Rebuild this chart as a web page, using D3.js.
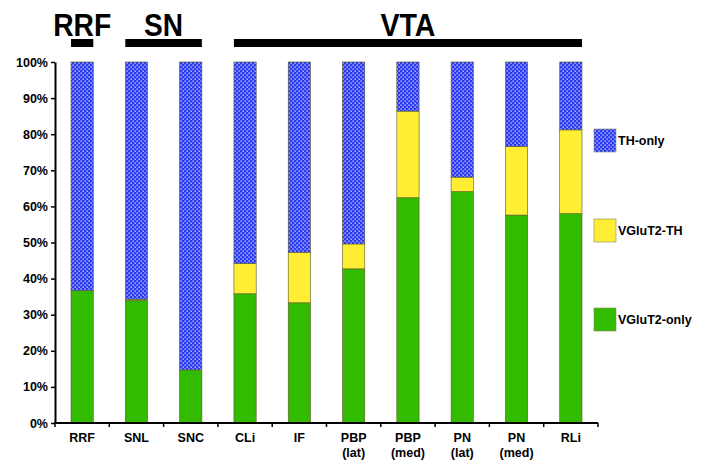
<!DOCTYPE html>
<html>
<head>
<meta charset="utf-8">
<script src="https://cdn.jsdelivr.net/npm/d3@7"></script>
<style>
  html, body { margin: 0; padding: 0; background: #fff; }
  svg text { font-family: Arial, "Liberation Sans", sans-serif; font-weight: bold; }
</style>
</head>
<body>
<svg id="chart" width="706" height="467"></svg>
<script>
// ---- data ----
const categories = ["RRF", "SNL", "SNC", "CLi", "IF", "PBP\n(lat)", "PBP\n(med)", "PN\n(lat)", "PN\n(med)", "RLi"];
const vglut2Only = [36.7, 34.0, 14.7, 35.8, 33.3, 42.7, 62.4, 64.1, 57.6, 58.0];
const vglut2TH   = [0.0, 0.3, 0.0, 8.4, 14.0, 6.9, 24.0, 4.0, 19.0, 23.2];
const thOnly     = [63.3, 65.7, 85.3, 55.8, 52.7, 50.4, 13.6, 31.9, 23.4, 18.8];
const seriesNames = ["VGluT2-only", "VGluT2-TH", "TH-only"];
const yTicks = [0, 10, 20, 30, 40, 50, 60, 70, 80, 90, 100];
const groups = [
  { name: "RRF", first: 0, last: 0 },
  { name: "SN",  first: 1, last: 2 },
  { name: "VTA", first: 3, last: 9 }
];

(function () {
// ---- layout ----
const svg = d3.select("#chart");
const mLeft = 55, mRight = 598, mTop = 62, mBottom = 423;

const defs = svg.append("defs");
const pat = defs.append("pattern").attr("id", "dots")
  .attr("patternUnits", "userSpaceOnUse").attr("width", 4).attr("height", 4);
pat.append("rect").attr("width", 4).attr("height", 4).attr("fill", "#2a3af2");
pat.append("rect").attr("x", 0.5).attr("y", 0.5).attr("width", 1.2).attr("height", 1.2).attr("fill", "#ffffff");
pat.append("rect").attr("x", 2.5).attr("y", 2.5).attr("width", 1.2).attr("height", 1.2).attr("fill", "#ffffff");

const fills = { "VGluT2-only": "#33bb00", "VGluT2-TH": "#ffee33", "TH-only": "url(#dots)" };

const idx = categories.map((c, i) => i);
const xAxisScale = d3.scaleBand().domain(idx).range([mLeft, mRight]).padding(0);
const xBar = d3.scaleBand().domain(idx).range([mLeft, mRight]).paddingInner(0.59).paddingOuter(0.295);
const y = d3.scaleLinear().domain([0, 100]).range([mBottom, mTop]);

const table = idx.map(i => ({
  i,
  "VGluT2-only": vglut2Only[i],
  "VGluT2-TH": vglut2TH[i],
  "TH-only": thOnly[i]
}));
const stacked = d3.stack().keys(seriesNames)(table);

svg.append("g").selectAll("g").data(stacked).join("g")
  .attr("fill", d => fills[d.key])
  .selectAll("rect").data(d => d).join("rect")
  .attr("x", d => xBar(d.data.i))
  .attr("width", xBar.bandwidth())
  .attr("y", d => y(d[1]))
  .attr("height", d => Math.max(0, y(d[0]) - y(d[1])))
  .attr("stroke", "#5a5a2a")
  .attr("stroke-width", 0.6);

// ---- y axis ----
const yAxis = svg.append("g").attr("transform", `translate(${mLeft},0)`)
  .call(d3.axisLeft(y).tickValues(yTicks).tickFormat(d => d + "%").tickSize(4).tickSizeOuter(0).tickPadding(3));
yAxis.select(".domain").attr("stroke", "#000").attr("stroke-width", 2);
yAxis.selectAll(".tick line").attr("stroke", "#000").attr("stroke-width", 1.5);
yAxis.selectAll("text").attr("font-size", 12.5).attr("fill", "#000")
  .style("font-family", "Arial, 'Liberation Sans', sans-serif").style("font-weight", "bold");

// ---- x axis ----
const xg = svg.append("g").attr("transform", `translate(0,${mBottom})`);
xg.append("line").attr("x1", mLeft - 1).attr("x2", mRight).attr("stroke", "#000").attr("stroke-width", 2);
const boundaries = idx.map(i => xAxisScale(i)).concat([xAxisScale(idx[idx.length - 1]) + xAxisScale.bandwidth()]);
xg.selectAll("line.tk").data(boundaries).join("line").attr("class", "tk")
  .attr("x1", d => d).attr("x2", d => d).attr("y1", 0).attr("y2", 4)
  .attr("stroke", "#000").attr("stroke-width", 1.5);
const lbl = xg.selectAll("text.cat").data(idx).join("text").attr("class", "cat")
  .attr("text-anchor", "middle").attr("font-size", 12.5).attr("fill", "#000")
  .attr("transform", i => `translate(${xBar(i) + xBar.bandwidth() / 2},0)`);
lbl.selectAll("tspan").data(i => categories[i].split("\n")).join("tspan")
  .attr("x", 0).attr("y", (d, j) => 19 + j * 15).text(d => d);

// ---- group labels ----
const gg = svg.append("g");
const widths = { RRF: 58, SN: 39, VTA: 55 };
groups.forEach(g => {
  const x0 = xBar(g.first), x1 = xBar(g.last) + xBar.bandwidth();
  gg.append("rect").attr("x", x0).attr("y", 39).attr("width", x1 - x0).attr("height", 8).attr("fill", "#000");
  gg.append("text").attr("x", (x0 + x1) / 2).attr("y", 36).attr("text-anchor", "middle")
    .attr("font-size", 31).attr("fill", "#000")
    .attr("textLength", widths[g.name]).attr("lengthAdjust", "spacingAndGlyphs")
    .text(g.name);
});

// ---- legend ----
const legendItems = ["TH-only", "VGluT2-TH", "VGluT2-only"];
const legendY = [129, 219, 308];
const lg = svg.append("g");
legendItems.forEach((name, k) => {
  lg.append("rect").attr("x", 594).attr("y", legendY[k]).attr("width", 22).attr("height", 23)
    .attr("fill", fills[name]).attr("stroke", "#8a8a5a").attr("stroke-width", 0.6);
  lg.append("text").attr("x", 618).attr("y", legendY[k] + 16).attr("font-size", 12.5).attr("fill", "#000")
    .text(name);
});
})();
</script>
</body>
</html>
